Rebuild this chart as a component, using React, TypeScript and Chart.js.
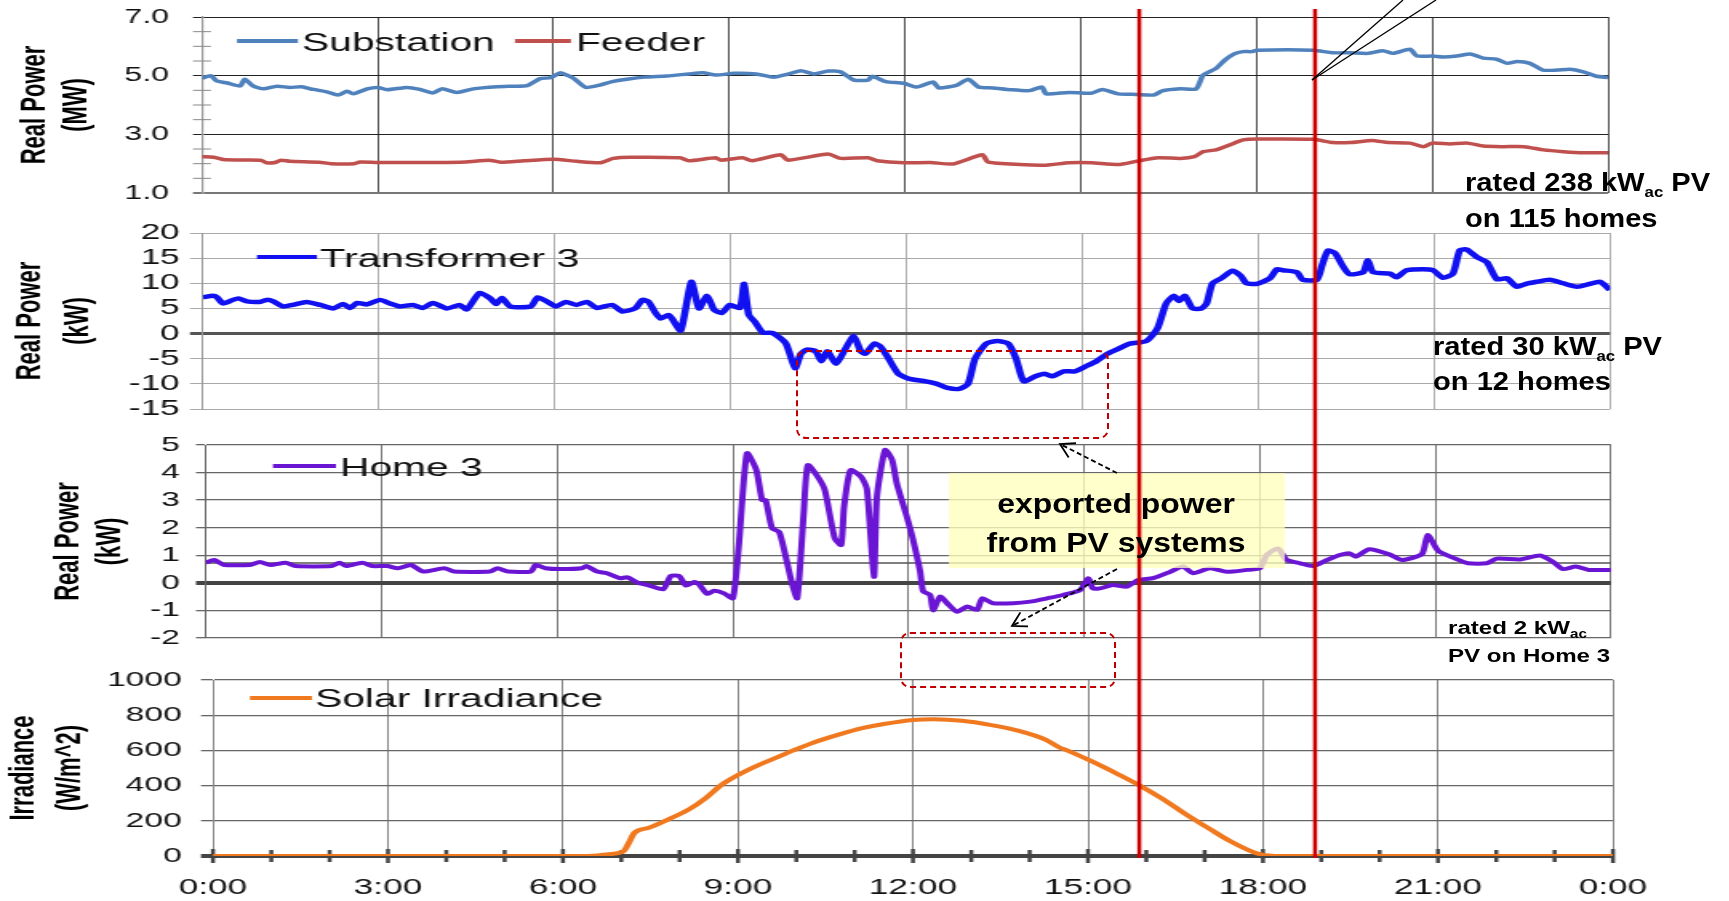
import React, { useEffect, useRef } from 'react';
import { Chart, registerables } from 'chart.js';

Chart.register(...registerables);

// ---------------- data (hours of day, values) ----------------
const substationHours = [0,0.15,0.25,0.43,0.65,0.73,0.87,1.05,1.28,1.5,1.7,1.9,2.13,2.32,2.48,2.58,2.82,3.0,3.16,3.5,3.72,3.94,4.1,4.35,4.63,5.04,5.3,5.55,5.77,5.95,6.12,6.25,6.35,6.55,6.79,7.0,7.25,7.56,7.94,8.31,8.55,8.77,9.08,9.46,9.76,10.0,10.22,10.45,10.69,10.9,11.13,11.37,11.44,11.67,11.98,12.2,12.48,12.58,12.89,13.08,13.26,13.5,13.8,14.12,14.34,14.41,14.8,15.18,15.37,15.64,15.95,16.25,16.39,16.7,16.97,17.09,17.31,17.46,17.62,17.77,17.92,18.0,18.97,19.3,19.6,19.9,20.16,20.33,20.62,20.74,21.0,21.19,21.42,21.65,21.87,22.1,22.28,22.45,22.67,22.89,23.13,23.35,23.58,23.8,24.0];
const substationMW = [4.91,5.0,4.82,4.75,4.65,4.88,4.65,4.55,4.64,4.6,4.62,4.53,4.45,4.34,4.47,4.38,4.55,4.6,4.52,4.6,4.53,4.41,4.55,4.43,4.55,4.62,4.64,4.66,4.9,4.93,5.1,5.0,4.9,4.6,4.68,4.8,4.88,4.95,4.99,5.06,5.1,5.02,5.08,5.06,4.95,5.05,5.17,5.06,5.16,5.13,4.85,4.85,4.98,4.8,4.74,4.61,4.78,4.58,4.68,4.88,4.61,4.58,4.52,4.49,4.61,4.38,4.43,4.4,4.53,4.38,4.36,4.34,4.48,4.55,4.55,5.02,5.25,5.53,5.74,5.82,5.82,5.87,5.87,5.78,5.78,5.76,5.85,5.76,5.9,5.67,5.67,5.64,5.67,5.74,5.6,5.56,5.42,5.48,5.42,5.19,5.19,5.22,5.13,4.98,4.94];

const feederHours = [0,0.2,0.4,1.0,1.1,1.25,1.35,1.5,2.0,2.2,2.6,2.7,3.0,3.5,4.0,4.5,4.9,5.1,5.5,6.0,6.4,6.79,7.02,7.32,8.16,8.31,8.77,8.86,9.23,9.39,9.88,10.0,10.69,10.9,11.37,11.52,11.98,12.43,12.82,13.32,13.42,13.96,14.41,14.8,15.18,15.64,15.95,16.32,16.7,16.94,17.09,17.31,17.46,17.62,17.77,18.0,18.97,19.3,19.6,19.97,20.25,20.62,20.85,21.0,21.3,21.6,21.87,22.2,22.57,22.9,23.24,23.58,24.0];
const feederMW = [2.24,2.22,2.13,2.12,2.03,2.04,2.12,2.08,2.05,2.0,2.0,2.06,2.04,2.04,2.04,2.06,2.12,2.05,2.1,2.15,2.08,2.03,2.18,2.22,2.2,2.1,2.2,2.12,2.2,2.1,2.3,2.12,2.33,2.18,2.2,2.1,2.03,2.04,1.99,2.3,2.05,1.97,1.95,2.03,2.03,1.97,2.08,2.2,2.18,2.24,2.41,2.47,2.58,2.7,2.81,2.84,2.83,2.72,2.72,2.79,2.72,2.7,2.58,2.7,2.67,2.7,2.6,2.58,2.58,2.47,2.41,2.37,2.37];

const transformerHours = [0,0.17,0.24,0.34,0.51,0.6,0.75,0.97,1.09,1.2,1.36,1.53,1.77,2.0,2.22,2.39,2.51,2.63,2.8,3.02,3.19,3.36,3.58,3.75,3.92,4.16,4.38,4.5,4.72,4.9,5.0,5.1,5.24,5.59,5.71,5.88,6.02,6.19,6.37,6.55,6.72,6.98,7.15,7.37,7.5,7.6,7.72,7.81,7.94,8.0,8.15,8.33,8.46,8.6,8.72,8.85,8.99,9.16,9.23,9.31,9.41,9.55,9.72,9.94,10.1,10.2,10.3,10.45,10.55,10.65,10.8,10.95,11.1,11.22,11.3,11.45,11.55,11.67,11.86,12.05,12.33,12.52,12.7,12.9,13.05,13.17,13.36,13.55,13.74,13.87,14.0,14.2,14.36,14.49,14.68,14.87,15.06,15.24,15.43,15.62,15.81,16.09,16.28,16.43,16.56,16.65,16.75,16.88,17.03,17.12,17.22,17.37,17.56,17.7,17.8,17.98,18.2,18.32,18.42,18.66,18.76,19.0,19.09,19.19,19.31,19.45,19.56,19.79,19.87,19.96,20.25,20.36,20.53,20.81,20.98,21.15,21.32,21.44,21.56,21.73,21.9,22.07,22.24,22.41,22.57,22.75,22.97,23.2,23.44,23.66,23.83,24.0];
const transformerKW = [7.2,7.5,7.2,6.0,6.7,7.0,6.4,6.3,6.7,6.4,5.4,5.7,6.3,5.7,5.0,5.9,5.1,6.1,5.8,6.7,6.0,5.4,5.7,5.1,6.1,5.0,5.7,4.8,8.1,7.0,5.9,7.1,5.4,5.4,7.2,6.3,5.4,6.3,5.7,6.3,5.1,5.7,4.4,5.0,6.7,6.3,4.1,3.0,3.7,3.0,0.6,10.3,5.0,7.5,4.7,4.1,5.7,5.1,9.9,3.7,2.4,0.2,0.1,-1.9,-6.9,-4.0,-3.2,-3.5,-5.5,-3.5,-6.0,-3.2,-0.5,-3.5,-4.0,-2.0,-2.5,-4.5,-8.0,-9.0,-9.5,-10.0,-10.8,-11.0,-10.0,-5.0,-2.0,-1.5,-2.0,-5.0,-9.5,-8.5,-8.0,-8.5,-7.5,-7.5,-6.5,-5.5,-4.0,-3.0,-2.0,-1.5,1.0,6.0,7.5,6.5,7.5,5.0,5.0,6.0,10.0,11.0,12.5,11.5,10.0,9.9,11.0,12.8,12.6,12.2,10.7,10.7,13.6,16.5,16.0,13.3,11.8,12.2,14.6,12.2,11.9,11.2,12.6,12.8,12.6,11.1,11.9,16.6,16.7,15.2,14.2,10.8,11.0,9.3,9.9,10.3,10.7,10.0,9.3,9.9,10.3,8.7];

const homeHours = [0,0.14,0.31,0.75,0.92,1.1,1.36,1.53,2.15,2.28,2.4,2.67,2.84,3.1,3.28,3.5,3.71,4.07,4.24,4.85,4.98,5.16,5.55,5.63,5.8,6.06,6.42,6.5,6.68,6.85,7.07,7.2,7.38,7.55,7.81,7.94,8.08,8.2,8.34,8.42,8.56,8.68,8.85,9.0,9.1,9.24,9.4,9.5,9.56,9.67,9.79,9.89,10.01,10.1,10.21,10.28,10.45,10.57,10.74,10.85,10.9,11.01,11.19,11.29,11.41,11.46,11.6,11.72,11.8,11.98,12.08,12.2,12.25,12.37,12.42,12.54,12.66,12.83,13.0,13.17,13.26,13.44,13.79,14.08,14.37,14.64,14.93,15.07,15.15,15.27,15.49,15.73,15.92,16.18,16.47,16.69,16.86,17.15,17.44,17.78,18.0,18.12,18.31,18.46,18.69,18.91,19.15,19.37,19.54,19.64,19.87,20.21,20.43,20.77,20.87,21.05,21.34,21.56,21.88,22.05,22.45,22.79,23.01,23.18,23.4,23.62,24.0];
const homeKW = [0.73,0.83,0.65,0.65,0.76,0.65,0.73,0.61,0.61,0.73,0.61,0.73,0.61,0.61,0.53,0.65,0.41,0.53,0.41,0.41,0.53,0.41,0.41,0.65,0.53,0.5,0.53,0.61,0.41,0.35,0.17,0.2,0.0,-0.08,-0.23,0.25,0.25,-0.1,0.03,-0.05,-0.4,-0.29,-0.38,-0.56,1.31,4.7,4.1,3.0,3.0,1.98,1.85,1.07,-0.02,-0.56,2.52,4.27,3.85,3.37,1.62,1.37,2.76,4.09,3.85,3.4,0.22,3.1,4.82,4.46,3.61,2.34,1.55,0.4,-0.3,-0.44,-1.0,-0.5,-0.74,-1.05,-0.86,-0.98,-0.56,-0.74,-0.74,-0.68,-0.56,-0.44,-0.26,0.17,-0.2,-0.2,-0.08,-0.14,0.1,0.17,0.4,0.59,0.35,0.53,0.4,0.47,0.53,1.01,1.25,0.83,0.71,0.61,0.83,1.01,1.07,0.95,1.22,1.04,0.83,1.04,1.74,1.16,0.88,0.71,0.71,0.88,0.85,0.99,0.76,0.5,0.59,0.47,0.47];

const solarHours = [0,6.19,6.58,6.78,7.03,7.13,7.22,7.47,7.75,8.16,8.45,8.7,9.0,9.34,9.7,9.95,10.3,10.71,11.11,11.5,12.0,12.36,12.84,13.32,13.8,14.28,14.52,14.62,15.05,15.53,15.9,16.3,16.68,17.07,17.45,17.85,18.03,18.41,24];
const solarWm2 = [0,0,3,10,25,75,130,160,200,265,330,400,460,515,565,600,645,688,725,750,773,777,768,745,712,660,615,603,540,462,398,320,236,157,82,20,5,0,0];

const timeTickLabels = ['0:00', '3:00', '6:00', '9:00', '12:00', '15:00', '18:00', '21:00', '0:00'];
const markerHours = [16, 19];
const homeRefLineKW = 0.72;
const calloutBox = { fromHour: 12.69, toHour: 18.43, topKW: 3.98, bottomKW: 0.54 };

// ---------------- layout ----------------
const S = 1.6; // the source figure is stretched horizontally
const INNER_W = 1081;
const FONT = "'Liberation Sans', Arial, Helvetica, sans-serif";

type Panel = { canvasTop: number; canvasH: number; left: number; right: number; top: number; bottom: number };
const PANELS: Panel[] = [
  { canvasTop: 0, canvasH: 213, left: 202, right: 1608, top: 17, bottom: 193 },
  { canvasTop: 213, canvasH: 214, left: 203, right: 1610, top: 233, bottom: 409 },
  { canvasTop: 427, canvasH: 233, left: 206, right: 1611, top: 445, bottom: 638 },
  { canvasTop: 660, canvasH: 241, left: 213, right: 1613, top: 680, bottom: 856 },
];

const cx = (pageX: number) => pageX / S;
const toPoints = (xs: number[], ys: number[]) =>
  xs.slice(0, Math.min(xs.length, ys.length)).map((x, i) => ({ x, y: ys[i] }));

function legendPlugin(p: Panel, items: { ds: number; x1: number; x2: number; tx: number }[], lineY: number, baseY: number, size: number) {
  return {
    id: 'inlineLegend',
    afterDraw(chart: any) {
      const ctx = chart.ctx;
      ctx.save();
      items.forEach((it) => {
        const ds = chart.data.datasets[it.ds];
        ctx.strokeStyle = ds.borderColor;
        ctx.lineWidth = 4;
        ctx.beginPath();
        ctx.moveTo(cx(it.x1), lineY - p.canvasTop);
        ctx.lineTo(cx(it.x2), lineY - p.canvasTop);
        ctx.stroke();
        ctx.fillStyle = '#111';
        ctx.font = `${size}px ${FONT}`;
        ctx.textAlign = 'left';
        ctx.textBaseline = 'alphabetic';
        ctx.fillText(ds.label, cx(it.tx), baseY - p.canvasTop);
      });
      ctx.restore();
    },
  };
}

function markerPlugin(p: Panel, yFrom: number, yTo: number, getRef: () => any) {
  return {
    id: 'markerLines',
    afterDraw(chart: any) {
      const ref = getRef() || chart;
      const ctx = chart.ctx;
      ctx.save();
      ctx.strokeStyle = '#CC0000';
      ctx.lineWidth = 4 / S;
      markerHours.forEach((h) => {
        const x = ref.scales.x.getPixelForValue(h);
        ctx.beginPath();
        ctx.moveTo(x, yFrom - p.canvasTop);
        ctx.lineTo(x, yTo - p.canvasTop);
        ctx.stroke();
      });
      ctx.restore();
    },
  };
}

const minorTickPlugin = {
  id: 'minorTicks',
  afterDraw(chart: any) {
    const ctx = chart.ctx;
    const y = chart.scales.y;
    const left = chart.chartArea.left;
    ctx.save();
    ctx.strokeStyle = '#888';
    ctx.lineWidth = 1;
    for (let v = 1.5; v < 7; v += 0.5) {
      if (v % 2 === 1) continue;
      const yy = y.getPixelForValue(v);
      ctx.beginPath();
      ctx.moveTo(left - cx(9), yy);
      ctx.lineTo(left + cx(9), yy);
      ctx.stroke();
    }
    ctx.restore();
  },
};

const homeRefPlugin = {
  id: 'homeRef',
  beforeDatasetsDraw(chart: any) {
    const ctx = chart.ctx;
    const yy = chart.scales.y.getPixelForValue(homeRefLineKW);
    ctx.save();
    ctx.strokeStyle = '#555';
    ctx.lineWidth = 1.5;
    ctx.beginPath();
    ctx.moveTo(chart.chartArea.left, yy);
    ctx.lineTo(chart.chartArea.right, yy);
    ctx.stroke();
    ctx.restore();
  },
};

const calloutPlugin = {
  id: 'callout',
  afterDatasetsDraw(chart: any) {
    const { x, y } = chart.scales;
    const x1 = x.getPixelForValue(calloutBox.fromHour);
    const x2 = x.getPixelForValue(calloutBox.toHour);
    const y1 = y.getPixelForValue(calloutBox.topKW);
    const y2 = y.getPixelForValue(calloutBox.bottomKW);
    const ctx = chart.ctx;
    ctx.save();
    ctx.fillStyle = 'rgba(255,255,190,0.78)';
    ctx.fillRect(x1, y1, x2 - x1, y2 - y1);
    ctx.restore();
  },
};

const hourMarkPlugin = {
  id: 'hourMarks',
  beforeDatasetsDraw(chart: any) {
    const ctx = chart.ctx;
    const xs = chart.scales.x;
    const b = chart.chartArea.bottom;
    ctx.save();
    ctx.fillStyle = '#444';
    for (let h = 0; h <= 24; h++) {
      const x = xs.getPixelForValue(h);
      const half = h % 3 === 0 ? 7 : 6;
      const w = 4 / S;
      ctx.fillRect(x - w / 2, b - half, w, half * 2);
    }
    ctx.restore();
  },
};

function makeConfig(p: Panel, datasets: any[], y: any, x: any, plugins: any[]) {
  const padRight = INNER_W - p.right / S;
  const yWidth = p.left / S;
  const xHeight = p.canvasTop + p.canvasH - p.bottom;
  return {
    type: 'line',
    data: { datasets },
    options: {
      animation: false,
      responsive: true,
      maintainAspectRatio: false,
      events: [],
      layout: { autoPadding: false, padding: { left: 0, right: padRight, top: p.top - p.canvasTop, bottom: 0 } },
      plugins: { legend: { display: false }, tooltip: { enabled: false } },
      elements: { point: { radius: 0 } },
      scales: {
        x: {
          type: 'linear', min: 0, max: 24, ...x,
          afterFit: (s: any) => { s.height = xHeight; s.paddingLeft = 0; s.paddingRight = 0; s.paddingTop = 0; s.paddingBottom = 0; },
        },
        y: {
          type: 'linear', ...y,
          afterFit: (s: any) => { s.width = yWidth; s.paddingTop = 0; s.paddingBottom = 0; s.paddingLeft = 0; s.paddingRight = 0; },
        },
      },
    },
    plugins,
  };
}

const hiddenX = (color: (v: number) => string) => ({
  ticks: { display: false, stepSize: 3 },
  grid: { color: (c: any) => color(c.tick ? c.tick.value : 0), lineWidth: 0.8, drawTicks: false },
  border: { display: false },
});

const tickFont = (size: number) => ({ family: FONT, size });
const plainLabel = (v: any) => String(v);
const titleCfg = (text: string[], lh: number, pad: number) => ({
  display: true,
  text,
  color: '#000',
  font: { family: FONT, size: 22, weight: 'bold', lineHeight: lh },
  padding: { top: pad, bottom: 0 },
});

function arrowHead(x1: number, y1: number, x2: number, y2: number, len = 16, deg = 30) {
  const a = Math.atan2(y1 - y2, x1 - x2);
  const r = (deg * Math.PI) / 180;
  const p1 = [x2 + len * Math.cos(a + r), y2 + len * Math.sin(a + r)];
  const p2 = [x2 + len * Math.cos(a - r), y2 + len * Math.sin(a - r)];
  return `M${p1[0].toFixed(1)},${p1[1].toFixed(1)} L${x2},${y2} L${p2[0].toFixed(1)},${p2[1].toFixed(1)}`;
}

export default function App() {
  const r1 = useRef<HTMLCanvasElement>(null);
  const r2 = useRef<HTMLCanvasElement>(null);
  const r3 = useRef<HTMLCanvasElement>(null);
  const r4 = useRef<HTMLCanvasElement>(null);
  const refs = [r1, r2, r3, r4];

  useEffect(() => {
    let refChart: any = null;
    const getRef = () => refChart;
    const [p1, p2, p3, p4] = PANELS;

    const cfg1 = makeConfig(
      p1,
      [
        { label: 'Substation', data: toPoints(substationHours, substationMW), borderColor: '#4F81BD', borderWidth: 3.5, tension: 0.2, borderJoinStyle: 'round' },
        { label: 'Feeder', data: toPoints(feederHours, feederMW), borderColor: '#C0504D', borderWidth: 3.5, tension: 0.2, borderJoinStyle: 'round' },
      ],
      {
        min: 1, max: 7,
        ticks: { stepSize: 2, autoSkip: false, callback: (v: any) => Number(v).toFixed(1), font: tickFont(20), color: '#111', padding: 15 },
        grid: { color: (c: any) => (c.tick && c.tick.value === 1 ? '#777' : '#222'), lineWidth: (c: any) => (c.tick && c.tick.value === 1 ? 2 : 1), tickLength: cx(9) },
        border: { color: '#999', width: 1.2 },
        title: titleCfg(['Real Power', '(MW)'], 1.2, 8.6),
      },
      hiddenX((v) => (v === 0 ? 'rgba(0,0,0,0)' : '#222')),
      [minorTickPlugin, legendPlugin(p1, [{ ds: 0, x1: 237, x2: 298, tx: 302 }, { ds: 1, x1: 515, x2: 571, tx: 576 }], 41, 51, 25.5), markerPlugin(p1, 9, 213, getRef)]
    );

    const cfg2 = makeConfig(
      p2,
      [{ label: 'Transformer 3', data: toPoints(transformerHours, transformerKW), borderColor: '#1010F0', borderWidth: 4.5, tension: 0.2, borderJoinStyle: 'round' }],
      {
        min: -15, max: 20,
        ticks: { stepSize: 5, autoSkip: false, callback: plainLabel, font: tickFont(22), color: '#111', padding: 6.4 },
        grid: { color: (c: any) => (c.tick && c.tick.value === 0 ? '#555' : '#aaa'), lineWidth: (c: any) => (c.tick && c.tick.value === 0 ? 3 : 1), tickLength: cx(13) },
        border: { color: '#999', width: 1 },
        title: titleCfg(['Real Power', '(kW)'], 1.35, 3.9),
      },
      hiddenX(() => '#999'),
      [legendPlugin(p2, [{ ds: 0, x1: 257, x2: 317, tx: 320 }], 257, 266.5, 26), markerPlugin(p2, 213, 427, getRef)]
    );

    const cfg3 = makeConfig(
      p3,
      [{ label: 'Home 3', data: toPoints(homeHours, homeKW), borderColor: '#6A14D4', borderWidth: 4, tension: 0.2, borderJoinStyle: 'round' }],
      {
        min: -2, max: 5,
        ticks: { stepSize: 1, autoSkip: false, callback: plainLabel, font: tickFont(21), color: '#111', padding: 10 },
        grid: { color: (c: any) => (c.tick && c.tick.value === 0 ? '#444' : '#666'), lineWidth: (c: any) => (c.tick && c.tick.value === 0 ? 4 : 1.3), tickLength: cx(10) },
        border: { color: '#666', width: 1 },
        title: titleCfg(['Real Power', '(kW)'], 1.19, 29.4),
      },
      hiddenX(() => '#555'),
      [homeRefPlugin, calloutPlugin, legendPlugin(p3, [{ ds: 0, x1: 273, x2: 336, tx: 340 }], 466, 476, 25.5), markerPlugin(p3, 427, 660, getRef)]
    );

    const cfg4 = makeConfig(
      p4,
      [{ label: 'Solar Irradiance', data: toPoints(solarHours, solarWm2), borderColor: '#F0781E', borderWidth: 4, cubicInterpolationMode: 'monotone', borderJoinStyle: 'round' }],
      {
        min: 0, max: 1000,
        ticks: { stepSize: 200, autoSkip: false, callback: plainLabel, font: tickFont(21), color: '#111', padding: 12 },
        grid: { color: (c: any) => (c.tick && c.tick.value === 0 ? '#444' : '#666'), lineWidth: (c: any) => (c.tick && c.tick.value === 0 ? 4 : 1.3), tickLength: cx(12) },
        border: { color: '#888', width: 1 },
        title: titleCfg(['Irradiance', '(W/m^2)'], 1.33, 0),
      },
      {
        ticks: {
          stepSize: 1, autoSkip: false, maxRotation: 0, minRotation: 0, padding: 19,
          callback: (v: any) => (Number(v) % 3 === 0 ? timeTickLabels[Number(v) / 3] : ''),
          font: tickFont(22), color: '#111',
        },
        grid: { color: (c: any) => (c.tick && c.tick.value % 3 === 0 ? '#666' : 'rgba(0,0,0,0)'), lineWidth: 0.8, drawTicks: false },
        border: { display: false },
      },
      [hourMarkPlugin, legendPlugin(p4, [{ ds: 0, x1: 250, x2: 312, tx: 315 }], 698, 706.5, 25.5), markerPlugin(p4, 660, 858, getRef)]
    );

    const charts: Chart[] = [];
    const c1 = new Chart(r1.current as HTMLCanvasElement, cfg1 as any);
    refChart = c1;
    charts.push(c1);
    charts.push(new Chart(r2.current as HTMLCanvasElement, cfg2 as any));
    charts.push(new Chart(r3.current as HTMLCanvasElement, cfg3 as any));
    charts.push(new Chart(r4.current as HTMLCanvasElement, cfg4 as any));
    return () => charts.forEach((c) => c.destroy());
  }, []);

  return (
    <div style={{ position: 'absolute', left: 0, top: 0, width: 1729, height: 901, overflow: 'hidden', background: '#fff' }}>
      {PANELS.map((p, i) => (
        <div
          key={i}
          style={{ position: 'absolute', left: 0, top: p.canvasTop, width: INNER_W, height: p.canvasH, transform: `scaleX(${S})`, transformOrigin: '0 0' }}
        >
          <canvas ref={refs[i]} />
        </div>
      ))}
      <svg width={1729} height={901} style={{ position: 'absolute', left: 0, top: 0, pointerEvents: 'none' }}>
        <g stroke="#000" strokeWidth={1.3}>
          <line x1={1312} y1={80} x2={1403} y2={0} />
          <line x1={1312} y1={80} x2={1436} y2={0} />
        </g>
        <rect x={797} y={351} width={311} height={87} rx={9} fill="none" stroke="#C00000" strokeWidth={2} strokeDasharray="6 4" />
        <rect x={901} y={633} width={214} height={54} rx={9} fill="none" stroke="#C00000" strokeWidth={2} strokeDasharray="6 4" />
        <g stroke="#000" strokeWidth={1.8} fill="none">
          <line x1={1117} y1={473} x2={1062} y2={445} strokeDasharray="5 3" />
          <path d={arrowHead(1117, 473, 1060, 444)} />
          <line x1={1117} y1={569} x2={1014} y2={625} strokeDasharray="5 3" />
          <path d={arrowHead(1117, 569, 1012, 626)} />
        </g>
        <g style={{ fontFamily: FONT }} fontWeight="bold" fill="#000">
          <text transform="translate(1116 513) scale(1.14 1)" textAnchor="middle" fontSize={28}>exported power</text>
          <text transform="translate(1116 552) scale(1.14 1)" textAnchor="middle" fontSize={28}>from PV systems</text>
          <text transform="translate(1465 191) scale(1.12 1)" fontSize={26}>
            rated 238 kW<tspan fontSize={15} dy={6}>ac</tspan><tspan dy={-6}>{' PV'}</tspan>
          </text>
          <text transform="translate(1465 227) scale(1.12 1)" fontSize={26}>on 115 homes</text>
          <text transform="translate(1433 355) scale(1.12 1)" fontSize={26}>
            rated 30 kW<tspan fontSize={15} dy={6}>ac</tspan><tspan dy={-6}>{' PV'}</tspan>
          </text>
          <text transform="translate(1433 390) scale(1.12 1)" fontSize={26}>on 12 homes</text>
          <text transform="translate(1448 634) scale(1.27 1)" fontSize={19}>
            rated 2 kW<tspan fontSize={12} dy={4}>ac</tspan>
          </text>
          <text transform="translate(1448 662) scale(1.27 1)" fontSize={19}>PV on Home 3</text>
        </g>
      </svg>
    </div>
  );
}
